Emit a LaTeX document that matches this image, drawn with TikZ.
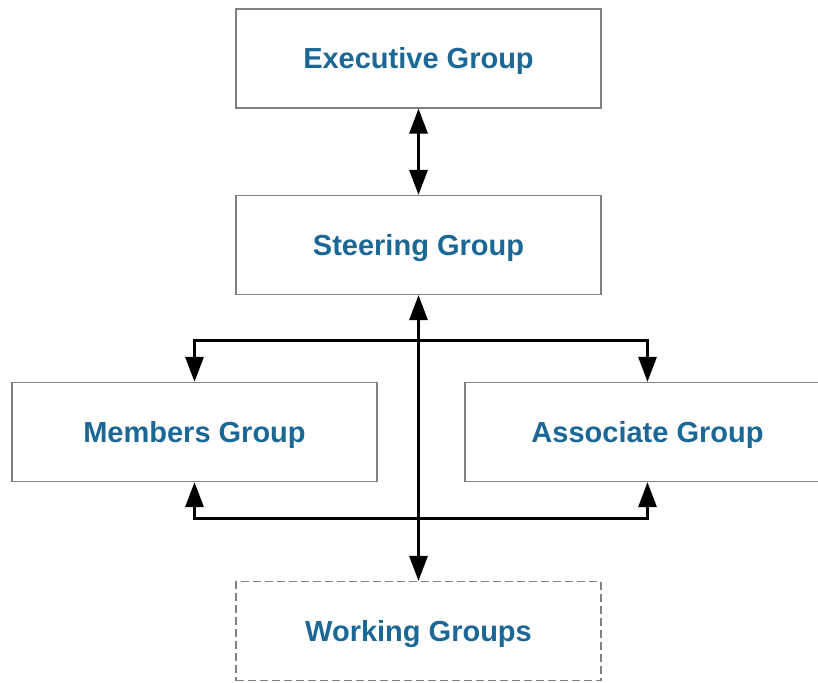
\documentclass[tikz,border=0pt]{standalone}
\usepackage{fontspec}
\setmainfont{Liberation Sans}
\usetikzlibrary{arrows.meta}
\definecolor{txt}{HTML}{1B6796}
\definecolor{bord}{HTML}{808080}
\tikzset{
  grp/.style={draw=bord, line width=1.2pt, minimum width=365pt, minimum height=99pt,
    inner sep=0pt, text height=20pt, text depth=0pt, text=txt, font=\fontsize{29}{34}\selectfont\bfseries},
  conn/.style={line width=3pt, black},
  tip/.tip={Triangle[width=18pt,length=25pt]}
}
\begin{document}
\begin{tikzpicture}[x=1pt,y=-1pt]
\useasboundingbox (0,0) rectangle (818,682);
\node[grp] (exec) at (418.5,58.5) {Executive Group};
\node[grp] (steer) at (418.5,245) {Steering Group};
\node[grp] (mem) at (194.5,432) {Members Group};
\node[grp] (assoc) at (647.5,432) {Associate Group};
\node[grp, dash pattern=on 8pt off 4pt] (work) at (418.5,631) {Working Groups};
\coordinate (t1) at (194.5,340);
\coordinate (t2) at (647.5,340);
\coordinate (b1) at (194.5,518);
\coordinate (b2) at (647.5,518);
\draw[conn, tip-tip] (exec.south) -- (steer.north);
\draw[conn, tip-tip] (steer.south) -- (work.north);
\draw[conn, tip-tip] (mem.north) -- (t1) -- (t2) -- (assoc.north);
\draw[conn, tip-tip] (mem.south) -- (b1) -- (b2) -- (assoc.south);
\end{tikzpicture}
\end{document}
